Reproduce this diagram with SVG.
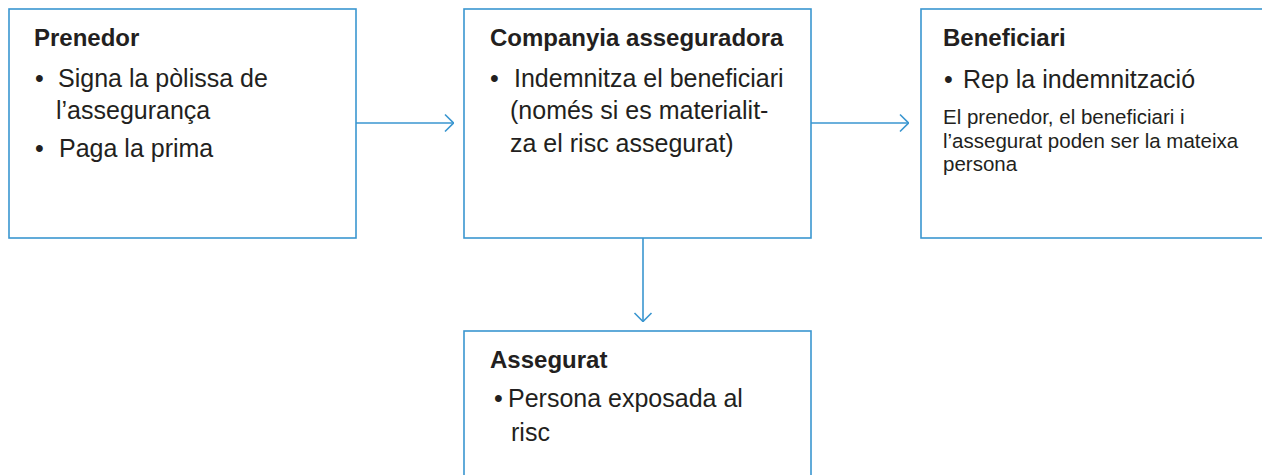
<svg xmlns="http://www.w3.org/2000/svg" width="1262" height="475" viewBox="0 0 1262 475">
<defs>
<style>
.box{fill:#ffffff;stroke:#3a96d0;stroke-width:1.6}
.con{fill:none;stroke:#3a96d0;stroke-width:1.6}
.t{font-family:"Liberation Sans",Arial,sans-serif;font-weight:bold;font-size:24px;fill:#231f20}
.b{font-family:"Liberation Sans",Arial,sans-serif;font-size:25px;fill:#231f20}
.s{font-family:"Liberation Sans",Arial,sans-serif;font-size:20.5px;fill:#231f20}
</style>
<marker id="chev" viewBox="0 0 10 20" refX="10" refY="10" markerWidth="10" markerHeight="20" markerUnits="userSpaceOnUse" orient="auto">
<path d="M1,1.5 L9.5,10 L1,18.5" fill="none" stroke="#3a96d0" stroke-width="1.6"/>
</marker>
</defs>
<rect width="1262" height="475" fill="#ffffff"/>
<g id="connectors">
<line class="con" x1="356" y1="123" x2="454" y2="123" marker-end="url(#chev)"/>
<line class="con" x1="811" y1="123" x2="909" y2="123" marker-end="url(#chev)"/>
<line class="con" x1="643" y1="238" x2="643" y2="322" marker-end="url(#chev)"/>
</g>
<g id="prenedor">
<rect class="box" x="9" y="9" width="347" height="229"/>
<text class="t" x="34" y="46">Prenedor</text>
<text class="b" x="35" y="87">•</text>
<text class="b" x="58" y="87">Signa la pòlissa de</text>
<text class="b" x="56" y="119">l’assegurança</text>
<text class="b" x="35" y="157">•</text>
<text class="b" x="59" y="157">Paga la prima</text>
</g>
<g id="companyia">
<rect class="box" x="464" y="9" width="347" height="229"/>
<text class="t" x="490" y="46">Companyia asseguradora</text>
<text class="b" x="490" y="87">•</text>
<text class="b" x="514" y="87">Indemnitza el beneficiari</text>
<text class="b" x="510" y="119">(només si es materialit-</text>
<text class="b" x="510" y="152">za el risc assegurat)</text>
</g>
<g id="beneficiari">
<rect class="box" x="921" y="9" width="360" height="229"/>
<text class="t" x="943" y="46">Beneficiari</text>
<text class="b" x="944" y="88">•</text>
<text class="b" x="963" y="88">Rep la indemnització</text>
<text class="s" x="943" y="124">El prenedor, el beneficiari i</text>
<text class="s" x="943" y="148">l’assegurat poden ser la mateixa</text>
<text class="s" x="943" y="171">persona</text>
</g>
<g id="assegurat">
<rect class="box" x="464" y="331" width="347" height="160"/>
<text class="t" x="490" y="368">Assegurat</text>
<text class="b" x="494" y="407">•</text>
<text class="b" x="508" y="407">Persona exposada al</text>
<text class="b" x="511" y="441">risc</text>
</g>
</svg>
